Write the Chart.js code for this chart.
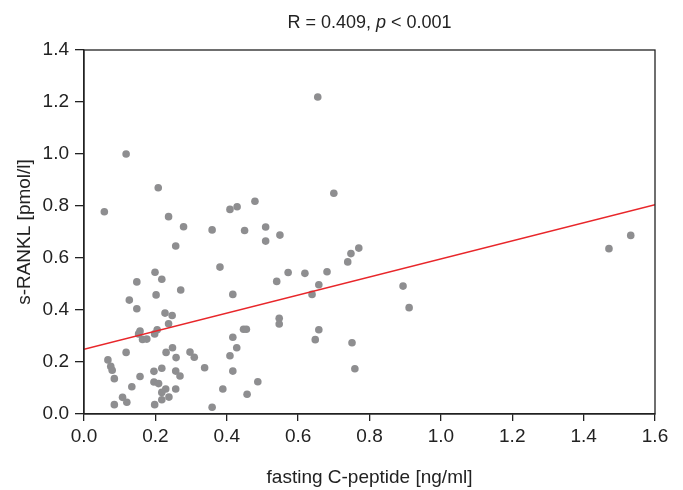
<!DOCTYPE html>
<html>
<head>
<meta charset="utf-8">
<script src="https://cdn.jsdelivr.net/npm/chart.js@4/dist/chart.umd.min.js"></script>
<style>
  html, body { margin: 0; padding: 0; background: #fff; }
  #wrap { width: 683px; height: 490px; position: relative; }
</style>
</head>
<body>
<div id="wrap"><canvas id="c" width="683" height="490"></canvas></div>
<script>
// fasting C-peptide [ng/ml]
const cPeptide = [
  0.118, 0.208, 0.057, 0.237, 0.279, 0.257, 0.359, 0.409, 0.429, 0.479,
  0.450, 0.509, 0.509, 0.549, 0.381, 0.199, 0.218, 0.572, 0.540, 0.148,
  0.271, 0.127, 0.202, 0.148, 0.227, 0.247, 0.237, 0.157, 0.153, 0.164,
  0.176, 0.205, 0.198, 0.118, 0.230, 0.248, 0.258, 0.297, 0.309, 0.067,
  0.075, 0.079, 0.085, 0.157, 0.196, 0.218, 0.257, 0.269, 0.338, 0.196,
  0.209, 0.134, 0.229, 0.218, 0.257, 0.238, 0.218, 0.108, 0.120, 0.085,
  0.198, 0.359, 0.389, 0.417, 0.409, 0.428, 0.417, 0.447, 0.455, 0.487,
  0.457, 0.417, 0.547, 0.547, 0.700, 0.619, 0.681, 0.770, 0.748, 0.739,
  0.658, 0.639, 0.894, 0.911, 0.658, 0.648, 0.751, 0.759, 0.655, 1.532,
  1.471
];
// s-RANKL [pmol/l]
const sRankl = [
  1.000, 0.870, 0.778, 0.759, 0.720, 0.646, 0.708, 0.787, 0.797, 0.818,
  0.706, 0.719, 0.665, 0.688, 0.565, 0.545, 0.518, 0.544, 0.510, 0.508,
  0.477, 0.438, 0.458, 0.405, 0.388, 0.379, 0.347, 0.319, 0.308, 0.287,
  0.288, 0.324, 0.308, 0.237, 0.237, 0.255, 0.217, 0.238, 0.218, 0.208,
  0.183, 0.168, 0.136, 0.144, 0.164, 0.176, 0.165, 0.146, 0.178, 0.123,
  0.117, 0.105, 0.096, 0.083, 0.096, 0.065, 0.055, 0.064, 0.045, 0.036,
  0.036, 0.026, 0.096, 0.165, 0.224, 0.255, 0.295, 0.326, 0.326, 0.124,
  0.076, 0.460, 0.368, 0.346, 0.849, 0.541, 0.547, 0.638, 0.617, 0.585,
  0.497, 0.460, 0.492, 0.409, 0.324, 0.286, 0.274, 0.174, 1.219, 0.687,
  0.636
];
// regression line end points
const fitX = [0.0, 1.6];
const fitY = [0.249, 0.805];

const titleParts = [
  { text: 'R = 0.409, ', italic: false },
  { text: 'p', italic: true },
  { text: ' < 0.001', italic: false }
];
const xTitle = 'fasting C-peptide [ng/ml]';
const yTitle = 's-RANKL [pmol/l]';

const FONT = "'Liberation Sans', Arial, 'Noto Sans', sans-serif";
const INK = '#222222';

const scatterPts = cPeptide.map((x, i) => ({ x: x, y: sRankl[i] }));
const fitPts = fitX.map((x, i) => ({ x: x, y: fitY[i] }));

const framePlugin = {
  id: 'frameAndTitle',
  afterDraw(chart) {
    const ctx = chart.ctx;
    const a = chart.chartArea;
    ctx.save();
    ctx.strokeStyle = INK;
    ctx.lineWidth = 1.3;
    ctx.strokeRect(a.left, a.top, a.right - a.left, a.bottom - a.top);
    // title with italic p
    const size = 18;
    const fonts = titleParts.map(p => (p.italic ? 'italic ' : '') + size + 'px ' + FONT);
    let total = 0;
    const widths = titleParts.map((p, i) => { ctx.font = fonts[i]; const w = ctx.measureText(p.text).width; total += w; return w; });
    let x = (a.left + a.right) / 2 - total / 2;
    ctx.fillStyle = INK;
    ctx.textBaseline = 'alphabetic';
    ctx.textAlign = 'left';
    titleParts.forEach((p, i) => { ctx.font = fonts[i]; ctx.fillText(p.text, x, 28); x += widths[i]; });
    ctx.restore();
  }
};

new Chart(document.getElementById('c'), {
  type: 'scatter',
  data: {
    datasets: [
      {
        label: 'data',
        data: scatterPts,
        backgroundColor: '#8e8e90',
        borderWidth: 0,
        pointRadius: 3.8,
        pointHoverRadius: 3.8,
        order: 2
      },
      {
        label: 'fit',
        type: 'line',
        data: fitPts,
        borderColor: '#e8262a',
        borderWidth: 1.5,
        pointRadius: 0,
        fill: false,
        order: 1
      }
    ]
  },
  options: {
    responsive: false,
    animation: false,
    events: [],
    layout: { padding: { left: 0, right: 28, top: 50, bottom: 0 } },
    plugins: {
      legend: { display: false },
      title: { display: false },
      tooltip: { enabled: false }
    },
    scales: {
      x: {
        type: 'linear',
        min: 0, max: 1.6,
        afterFit(s) { s.height = 76; },
        ticks: {
          stepSize: 0.2,
          color: INK,
          padding: 4,
          font: { family: FONT, size: 19 },
          callback: v => Number(v).toFixed(1)
        },
        grid: { display: true, drawOnChartArea: false, drawTicks: true, tickLength: 7, color: INK, lineWidth: 1.3 },
        border: { display: true, color: INK, width: 1.3 },
        title: { display: true, text: xTitle, color: INK, font: { family: FONT, size: 19 }, padding: { top: 1, bottom: 1 } }
      },
      y: {
        type: 'linear',
        min: 0, max: 1.4,
        afterFit(s) { s.width = 84; },
        ticks: {
          stepSize: 0.2,
          color: INK,
          padding: 6,
          font: { family: FONT, size: 19 },
          callback: v => Number(v).toFixed(1)
        },
        grid: { display: true, drawOnChartArea: false, drawTicks: true, tickLength: 9, color: INK, lineWidth: 1.3 },
        border: { display: true, color: INK, width: 1.3 },
        title: { display: true, text: yTitle, color: INK, font: { family: FONT, size: 19 }, padding: { top: 13, bottom: 13 } }
      }
    }
  },
  plugins: [framePlugin]
});
</script>
</body>
</html>
